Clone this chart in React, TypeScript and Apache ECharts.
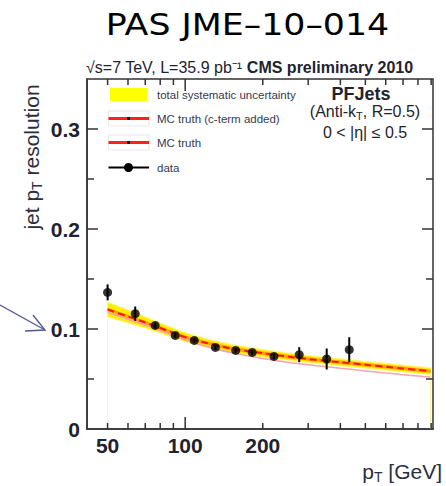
import React, { useEffect, useRef } from "react";
import * as echarts from "echarts";

// ---------- text ----------
const TITLE = "PAS JME–10–014";
const SUB_NORMAL = "√s=7 TeV, L=35.9 pb⁻¹ ";
const SUB_BOLD = "CMS preliminary 2010";
const LEGEND_LABELS = ["total systematic uncertainty", "MC truth (c-term added)", "MC truth", "data"];
const JET_LABEL = "PFJets";
const ALGO_LABEL = ["(Anti-k", "T", ", R=0.5)"];
const ETA_LABEL = "0 < |η| ≤ 0.5";
const Y_TITLE = ["jet p", "T", " resolution"];
const X_TITLE = ["p", "T", " [GeV]"];

// ---------- axes ----------
const X_MIN = 41.6;
const X_MAX = 915;
const Y_MIN = 0;
const Y_MAX = 0.35;
const xTickValues = [50, 60, 70, 80, 90, 100, 200, 300, 400, 500, 600, 700, 800, 900];
const xMajorTicks = [100];
const xTickLabels = [50, 100, 200];
const yTickValues = [0.05, 0.1, 0.15, 0.2, 0.25, 0.3];
const yMajorTicks = [0.1, 0.2, 0.3];

// ---------- data ----------
const dataPt = [50, 64, 76.5, 91.5, 108.5, 131, 157, 182, 221, 277, 354, 433];
const dataRes = [0.1366, 0.1153, 0.1036, 0.0936, 0.0886, 0.0816, 0.0786, 0.0766, 0.0726, 0.0743, 0.07, 0.0793];
const dataErr = [0.008, 0.0072, 0.003, 0.0025, 0.0025, 0.0025, 0.0025, 0.0025, 0.0028, 0.0075, 0.0105, 0.0125];

const curvePt = [50, 60, 70, 80, 90, 100, 120, 150, 200, 250, 300, 400, 500, 600, 700, 800, 895];
const mcCterm = [0.1195, 0.1125, 0.1065, 0.101, 0.096, 0.0918, 0.0862, 0.0806, 0.0758, 0.0724, 0.07, 0.0667, 0.0642, 0.0622, 0.0605, 0.059, 0.0578];
const systHigh = [0.127, 0.1189, 0.1121, 0.106, 0.1007, 0.0963, 0.0904, 0.0846, 0.0795, 0.076, 0.0735, 0.0702, 0.0676, 0.0656, 0.0639, 0.0624, 0.0612];
const systLow = [0.112, 0.1061, 0.1009, 0.096, 0.0913, 0.0873, 0.082, 0.0766, 0.0721, 0.0688, 0.0665, 0.0632, 0.0608, 0.0588, 0.0571, 0.0556, 0.0544];
const mcTruth = [0.1168, 0.1098, 0.104, 0.0985, 0.0935, 0.089, 0.0828, 0.0765, 0.0705, 0.0668, 0.0643, 0.0607, 0.0581, 0.056, 0.0543, 0.0529, 0.0517];

const INNER_HALF = 0.0018;
const FRAME = "#333";
const TXT = "#1f2330";
const FONT = '"Liberation Sans", Arial, sans-serif';

function bandPolygon(api: any, low: number[], high: number[]) {
  const pts: number[][] = [];
  for (let i = 0; i < curvePt.length; i++) pts.push(api.coord([curvePt[i], high[i]]));
  for (let i = curvePt.length - 1; i >= 0; i--) pts.push(api.coord([curvePt[i], low[i]]));
  return pts;
}

export default function App() {
  const ref = useRef<HTMLDivElement>(null);
  useEffect(() => {
    if (!ref.current) return;
    const chart = echarts.init(ref.current, null, { renderer: "svg" });
    const innerLow = mcCterm.map((v) => v - INNER_HALF);
    const innerHigh = mcCterm.map((v) => v + INNER_HALF);

    const legendY = [94.5, 118.5, 142.5, 167.5];

    const option: any = {
      animation: false,
      backgroundColor: "#fff",
      grid: {
        left: 87,
        right: 13,
        top: 79,
        bottom: 57,
        containLabel: false,
        outerBoundsMode: "none",
        show: true,
        borderColor: FRAME,
        borderWidth: 1.5,
        backgroundColor: "#fff",
      },
      xAxis: {
        type: "log",
        logBase: 10,
        min: X_MIN,
        max: X_MAX,
        axisLine: { show: true, lineStyle: { color: FRAME, width: 1.5 } },
        axisTick: { show: false },
        axisLabel: { show: false },
        splitLine: { show: false },
        minorTick: { show: false },
      },
      yAxis: {
        type: "value",
        min: Y_MIN,
        max: Y_MAX,
        interval: 0.1,
        axisLine: { show: true, lineStyle: { color: FRAME, width: 1.5 } },
        axisTick: { show: false },
        splitLine: { show: false },
        axisLabel: {
          margin: 7,
          color: TXT,
          fontSize: 21,
          fontWeight: "bold",
          fontFamily: FONT,
          formatter: (v: number) => (Math.abs(Math.round(v * 10) - v * 10) < 1e-6 ? String(Math.round(v * 10) / 10) : ""),
        },
      },
      series: [
        {
          type: "custom",
          name: "syst",
          coordinateSystem: "cartesian2d",
          silent: true,
          z: 1,
          data: curvePt.map((p, i) => [p, systLow[i], systHigh[i]]),
          renderItem: (params: any, api: any) => {
            if (params.dataIndex !== 0) return null;
            const n = curvePt.length - 1;
            const b0 = api.coord([curvePt[0], Y_MIN]);
            const t0 = api.coord([curvePt[0], systLow[0]]);
            const b1 = api.coord([curvePt[n], Y_MIN]);
            const t1 = api.coord([curvePt[n], systLow[n]]);
            return {
              type: "group",
              children: [
                { type: "line", shape: { x1: b0[0], y1: b0[1], x2: t0[0], y2: t0[1] }, style: { stroke: "#fff3a8", lineWidth: 1 } },
                { type: "line", shape: { x1: b1[0], y1: b1[1], x2: t1[0], y2: t1[1] }, style: { stroke: "#fff3a8", lineWidth: 1 } },
                { type: "polygon", shape: { points: bandPolygon(api, systLow, systHigh) }, style: { fill: "#ffee00", stroke: "#fff680", lineWidth: 1 } },
                { type: "polygon", shape: { points: bandPolygon(api, innerLow, innerHigh) }, style: { fill: "#ff9a00", opacity: 0.85 } },
              ],
            };
          },
        },
        {
          type: "line",
          name: "MC truth",
          data: curvePt.map((p, i) => [p, mcTruth[i]]),
          showSymbol: false,
          symbol: "none",
          smooth: 0.3,
          z: 2,
          lineStyle: { color: "#f5a3ae", width: 1.5 },
        },
        {
          type: "line",
          name: "MC truth (c-term added)",
          data: curvePt.map((p, i) => [p, mcCterm[i]]),
          showSymbol: false,
          symbol: "none",
          smooth: 0.3,
          z: 3,
          lineStyle: { color: "#ff1400", width: 2, type: [7, 4] },
        },
        {
          type: "custom",
          name: "errors",
          coordinateSystem: "cartesian2d",
          silent: true,
          z: 4,
          data: dataPt.map((p, i) => [p, dataRes[i] - dataErr[i], dataRes[i] + dataErr[i]]),
          renderItem: (params: any, api: any) => {
            const lo = api.coord([api.value(0), api.value(1)]);
            const hi = api.coord([api.value(0), api.value(2)]);
            return { type: "line", shape: { x1: lo[0], y1: lo[1], x2: hi[0], y2: hi[1] }, style: { stroke: "#000", lineWidth: 2 } };
          },
        },
        {
          type: "scatter",
          name: "data",
          data: dataPt.map((p, i) => [p, dataRes[i]]),
          symbol: "circle",
          symbolSize: 9,
          z: 5,
          itemStyle: { color: "#000" },
        },
        {
          type: "custom",
          name: "xticks",
          coordinateSystem: "cartesian2d",
          silent: true,
          clip: false,
          z: 10,
          data: xTickValues.map((v) => [v, Y_MIN]),
          renderItem: (params: any, api: any) => {
            const v = api.value(0);
            const b = api.coord([v, Y_MIN]);
            const t = api.coord([v, Y_MAX]);
            const len = xMajorTicks.indexOf(v) >= 0 ? 12 : 6;
            const children: any[] = [
              { type: "line", shape: { x1: b[0], y1: b[1], x2: b[0], y2: b[1] - len }, style: { stroke: FRAME, lineWidth: 1.5 } },
              { type: "line", shape: { x1: t[0], y1: t[1], x2: t[0], y2: t[1] + len }, style: { stroke: FRAME, lineWidth: 1.5 } },
            ];
            if (xTickLabels.indexOf(v) >= 0) {
              children.push({
                type: "text",
                x: b[0],
                y: b[1] + 6,
                style: { text: String(v), fill: TXT, fontSize: 21, fontWeight: "bold", fontFamily: FONT, align: "center", verticalAlign: "top" },
              });
            }
            return { type: "group", children };
          },
        },
        {
          type: "custom",
          name: "yticks",
          coordinateSystem: "cartesian2d",
          silent: true,
          clip: false,
          z: 10,
          data: yTickValues.map((v) => [X_MIN, v]),
          renderItem: (params: any, api: any) => {
            const v = api.value(1);
            const l = api.coord([X_MIN, v]);
            const r = api.coord([X_MAX, v]);
            const len = yMajorTicks.some((m) => Math.abs(m - v) < 1e-9) ? 11 : 7;
            return {
              type: "group",
              children: [
                { type: "line", shape: { x1: l[0], y1: l[1], x2: l[0] + len, y2: l[1] }, style: { stroke: FRAME, lineWidth: 1.5 } },
                { type: "line", shape: { x1: r[0], y1: r[1], x2: r[0] - len, y2: r[1] }, style: { stroke: FRAME, lineWidth: 1.5 } },
              ],
            };
          },
        },
      ],
      graphic: [
        {
          type: "text",
          x: 247.5,
          y: 25,
          scaleX: 1.16,
          originX: 0,
          style: { text: TITLE, fill: "#000", fontSize: 30, fontFamily: '"DejaVu Sans", sans-serif', align: "center", verticalAlign: "middle" },
        },
        {
          type: "text",
          x: 86,
          y: 67,
          style: {
            text: `{n|${SUB_NORMAL}}{b|${SUB_BOLD}}`,
            align: "left",
            verticalAlign: "middle",
            rich: {
              n: { fontSize: 16, fontFamily: FONT, fill: TXT },
              b: { fontSize: 16, fontFamily: FONT, fontWeight: "bold", fill: TXT },
            },
          },
        },
        {
          type: "text",
          x: 31,
          y: 157,
          rotation: Math.PI / 2,
          style: {
            text: `{a|${Y_TITLE[0]}}{s|${Y_TITLE[1]}}{a|${Y_TITLE[2]}}`,
            align: "center",
            verticalAlign: "middle",
            rich: {
              a: { fontSize: 21, fontFamily: FONT, fill: "#2a2e40", lineHeight: 26, verticalAlign: "middle" },
              s: { fontSize: 14, fontFamily: FONT, fill: "#2a2e40", lineHeight: 14, verticalAlign: "bottom" },
            },
          },
        },
        {
          type: "text",
          x: 442,
          y: 471,
          style: {
            text: `{a|${X_TITLE[0]}}{s|${X_TITLE[1]}}{a|${X_TITLE[2]}}`,
            align: "right",
            verticalAlign: "middle",
            rich: {
              a: { fontSize: 21, fontFamily: FONT, fill: "#2a2e40", lineHeight: 26, verticalAlign: "middle" },
              s: { fontSize: 14, fontFamily: FONT, fill: "#2a2e40", lineHeight: 14, verticalAlign: "bottom" },
            },
          },
        },
        {
          type: "text",
          x: 361,
          y: 94,
          style: { text: JET_LABEL, fill: TXT, fontSize: 18, fontWeight: "bold", fontFamily: FONT, align: "center", verticalAlign: "middle" },
        },
        {
          type: "text",
          x: 365,
          y: 111,
          style: {
            text: `{a|${ALGO_LABEL[0]}}{s|${ALGO_LABEL[1]}}{a|${ALGO_LABEL[2]}}`,
            align: "center",
            verticalAlign: "middle",
            rich: {
              a: { fontSize: 16, fontFamily: FONT, fill: TXT, lineHeight: 20, verticalAlign: "middle" },
              s: { fontSize: 11, fontFamily: FONT, fill: TXT, lineHeight: 11, verticalAlign: "bottom" },
            },
          },
        },
        {
          type: "text",
          x: 365,
          y: 132,
          style: { text: ETA_LABEL, fill: TXT, fontSize: 16, fontFamily: FONT, align: "center", verticalAlign: "middle" },
        },
        // legend
        { type: "rect", shape: { x: 110, y: 88, width: 37, height: 13 }, style: { fill: "#ffff00" } },
        { type: "rect", shape: { x: 108.5, y: 111, width: 40.5, height: 15 }, style: { fill: "#fff", stroke: "#e6e6e6", lineWidth: 1 } },
        { type: "line", shape: { x1: 108.5, y1: legendY[1], x2: 149, y2: legendY[1] }, style: { stroke: "#ff2020", lineWidth: 3 } },
        { type: "circle", shape: { cx: 128.5, cy: legendY[1], r: 1.6 }, style: { fill: "#000" } },
        { type: "rect", shape: { x: 108.5, y: 135, width: 40.5, height: 15 }, style: { fill: "#fff", stroke: "#e6e6e6", lineWidth: 1 } },
        { type: "line", shape: { x1: 108.5, y1: legendY[2], x2: 149, y2: legendY[2] }, style: { stroke: "#ff2020", lineWidth: 3 } },
        { type: "circle", shape: { cx: 128.5, cy: legendY[2], r: 1.6 }, style: { fill: "#000" } },
        { type: "line", shape: { x1: 108.5, y1: legendY[3], x2: 149, y2: legendY[3] }, style: { stroke: "#000", lineWidth: 2 } },
        { type: "circle", shape: { cx: 128.5, cy: legendY[3], r: 4.5 }, style: { fill: "#000" } },
        ...LEGEND_LABELS.map((t, i) => ({
          type: "text",
          x: 157,
          y: legendY[i],
          style: { text: t, fill: "#343a52", fontSize: 11.5, fontFamily: FONT, align: "left", verticalAlign: "middle" },
        })),
        // annotation arrow
        { type: "polyline", shape: { points: [[0, 305], [45, 330]] }, style: { stroke: "#525a96", lineWidth: 1.4, fill: null } },
        { type: "polyline", shape: { points: [[33, 315], [45, 330], [25, 331]] }, style: { stroke: "#525a96", lineWidth: 1.4, fill: null } },
      ],
    };
    chart.setOption(option);
    return () => chart.dispose();
  }, []);
  return <div ref={ref} style={{ position: "absolute", left: 0, top: 0, width: 446, height: 486 }} />;
}
